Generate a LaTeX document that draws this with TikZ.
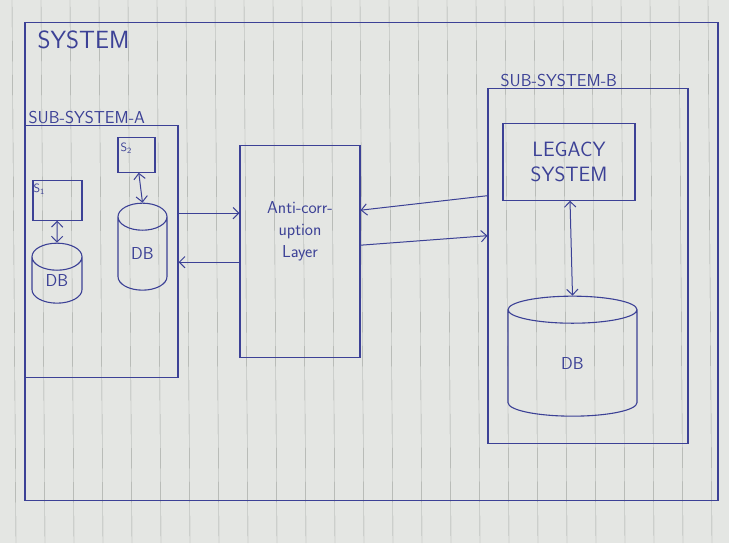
\documentclass[tikz,border=0pt]{standalone}
\usepackage{tikz}
\usetikzlibrary{positioning,arrows.meta,shapes.geometric}
\definecolor{ink}{HTML}{3C4196}
\definecolor{paper}{HTML}{E4E6E3}
\definecolor{rule}{HTML}{A2A6A2}

\begin{document}
\begin{tikzpicture}[x=1pt,y=-1pt,font=\sffamily,
    box/.style={draw=ink,line width=1.1pt,inner sep=0pt},
    db/.style={cylinder,shape border rotate=90,aspect=1.2,draw=ink,line width=1.1pt,text=ink,inner sep=0pt,font=\sffamily\LARGE},
    lbl/.style={text=ink,inner sep=1pt},
    arr/.style={draw=ink,line width=1pt,-{Straight Barb[length=2mm]}},
    darr/.style={draw=ink,line width=1pt,{Straight Barb[length=2mm]}-{Straight Barb[length=2mm]}}]

  % ruled paper
  \fill[paper] (0,0) rectangle (729,543);
  \foreach \x in {12,41,...,729}
    \draw[rule,thin] (\x,0) -- (\x+4,543);
  \useasboundingbox (0,0) rectangle (729,543);

  % whole system
  \node[box,minimum width=693pt,minimum height=478pt] (sys) at (371.5,261) {};
  \node[lbl,font=\sffamily\Huge,anchor=north west] (syslbl) at ([xshift=12pt,yshift=-8pt]sys.north west) {SYSTEM};

  % sub-system A
  \node[box,minimum width=153pt,minimum height=252pt] (subA) at (101.5,251) {};
  \node[lbl,font=\sffamily\LARGE,anchor=south west] (subAlbl) at ([xshift=3pt]subA.north west) {SUB-SYSTEM-A};
  \node[box,minimum width=49pt,minimum height=40pt] (s1) at (57.5,200) {};
  \node[lbl,font=\sffamily\large,anchor=north west] at ([yshift=-3pt]s1.north west) {S\textsubscript{1}};
  \node[box,minimum width=37pt,minimum height=35pt] (s2) at (136.5,154.5) {};
  \node[lbl,font=\sffamily\large,anchor=north west] at ([xshift=2pt,yshift=-5pt]s2.north west) {S\textsubscript{2}};
  \node[db,minimum width=50pt,minimum height=60pt] (db1) at (57,280) {DB};
  \node[db,minimum width=49pt,minimum height=87pt] (db2) at (142.5,253.5) {DB};

  \draw[darr] (s1) -- (db1.north);
  \draw[darr] (s2) -- (db2.north);

  % anti-corruption layer
  \node[box,minimum width=120pt,minimum height=212pt] (acl) at (300,251) {};
  \node[lbl,align=center,font=\sffamily\LARGE] (acltxt) at ([yshift=20pt]acl.center) {Anti-corr-\\uption\\Layer};

  % sub-system B
  \node[box,minimum width=200pt,minimum height=355pt] (subB) at (588,265.5) {};
  \node[lbl,font=\sffamily\LARGE,anchor=south west] (subBlbl) at ([xshift=12pt]subB.north west) {SUB-SYSTEM-B};
  \node[box,minimum width=132pt,minimum height=77pt,text=ink,align=center,
        font=\sffamily\huge] (legacy) at (569,161.5) {LEGACY\\SYSTEM};
  \node[db,minimum width=129pt,minimum height=120pt] (db3) at (572.5,363) {DB};

  \draw[darr] (legacy) -- (db3.north);

  % requests across the layer
  \draw[arr] ([yshift=38pt]subA.east) -- ([yshift=38pt]acl.west);
  \draw[arr] ([yshift=-11pt]acl.west) -- ([yshift=-11pt]subA.east);
  \draw[arr] ([yshift=70pt]subB.west) -- ([yshift=41pt]acl.east);
  \draw[arr] ([yshift=6pt]acl.east) -- ([yshift=30pt]subB.west);
\end{tikzpicture}
\end{document}
